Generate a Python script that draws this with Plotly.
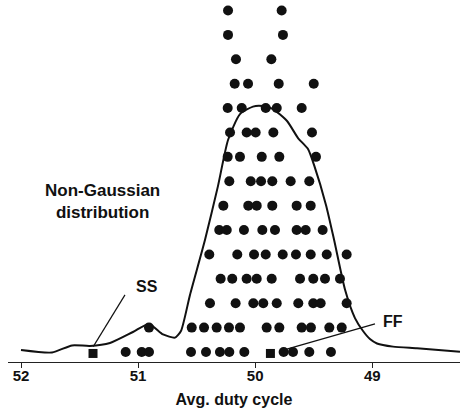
import plotly.graph_objects as go

# Dot positions (avg. duty cycle) for each stacked level, bottom level first
level_1 = [51.106, 50.969, 50.907, 50.548, 50.420, 50.301, 50.221, 50.093, 49.757, 49.677, 49.538, 49.353]
level_2 = [50.907, 50.542, 50.437, 50.329, 50.224, 50.130, 49.902, 49.794, 49.603, 49.524, 49.367, 49.261]
level_3 = [50.386, 50.167, 50.016, 49.931, 49.816, 49.632, 49.504, 49.441, 49.219]
level_4 = [50.295, 50.196, 50.073, 49.987, 49.859, 49.617, 49.504, 49.404, 49.276]
level_5 = [50.392, 50.153, 50.010, 49.910, 49.765, 49.652, 49.526, 49.389, 49.219]
level_6 = [50.307, 50.243, 50.096, 49.939, 49.831, 49.646, 49.569, 49.424]
level_7 = [50.272, 50.059, 49.987, 49.854, 49.646, 49.526]
level_8 = [50.221, 50.038, 49.950, 49.854, 49.697, 49.538]
level_9 = [50.235, 50.130, 49.944, 49.794, 49.481]
level_10 = [50.215, 50.073, 49.996, 49.845, 49.515]
level_11 = [50.235, 50.115, 49.910, 49.816, 49.603]
level_12 = [50.175, 50.061, 49.799, 49.500]
level_13 = [50.164, 49.862]
level_14 = [50.232, 49.763]
level_15 = [50.232, 49.774]
levels = [level_1, level_2, level_3, level_4, level_5, level_6, level_7, level_8,
          level_9, level_10, level_11, level_12, level_13, level_14, level_15]

# Density curve (same vertical units as the dot levels)
curve_x = [52.000, 51.735, 51.564, 51.411, 51.240, 51.044, 50.907, 50.787, 50.685, 50.634,
           50.557, 50.429, 50.318, 50.232, 50.130, 50.019, 49.933, 49.848, 49.728, 49.634,
           49.549, 49.497, 49.395, 49.326, 49.232, 49.148, 49.079, 49.020, 48.960, 48.823,
           48.618, 48.251]
curve_y = [1.08, 0.98, 1.27, 1.25, 1.37, 1.82, 2.15, 1.72, 1.59, 1.86,
           3.34, 5.59, 7.80, 9.69, 10.75, 11.06, 11.08, 10.96, 10.47, 9.77,
           9.32, 8.66, 7.02, 5.59, 3.54, 2.39, 1.86, 1.53, 1.35, 1.22,
           1.15, 1.01]

# Corner cases
corner_labels = ["SS", "FF"]
corner_x = [51.385, 49.870]
corner_y = [0.94, 0.94]

tick_vals = [52, 51, 50, 49]
tick_text = ["52", "51", "50", "49"]

dot_x, dot_y = [], []
for i, lv in enumerate(levels):
    dot_x += lv
    dot_y += [i + 1] * len(lv)

FONT = "Liberation Sans, Arial, sans-serif"
INK = "#111111"

fig = go.Figure()
fig.add_trace(go.Scatter(x=curve_x, y=curve_y, mode="lines",
                         line=dict(color=INK, width=2, shape="spline", smoothing=0.6),
                         hoverinfo="skip"))
fig.add_trace(go.Scatter(x=dot_x, y=dot_y, mode="markers",
                         marker=dict(color=INK, size=10, line=dict(width=0))))
fig.add_trace(go.Scatter(x=corner_x, y=corner_y, mode="markers",
                         marker=dict(color=INK, size=9, symbol="square", line=dict(width=0))))

# leader lines
fig.add_shape(type="line", x0=51.383, y0=1.22, x1=51.112, y1=3.34,
              line=dict(color=INK, width=1.2))
fig.add_shape(type="line", x0=49.760, y0=1.08, x1=48.977, y1=2.15,
              line=dict(color=INK, width=1.2))

bold = dict(family=FONT, size=16, color=INK, weight="bold")
fig.add_annotation(x=50.924, y=3.70, text=corner_labels[0], showarrow=False, font=bold)
fig.add_annotation(x=48.823, y=2.23, text=corner_labels[1], showarrow=False, font=bold)
fig.add_annotation(x=51.30, y=7.17, text="Non-Gaussian<br>distribution", showarrow=False,
                   font=dict(family=FONT, size=17, color=INK, weight="bold"),
                   align="center")

fig.update_layout(
    width=460, height=412,
    margin=dict(l=8, r=0, t=0, b=50, autoexpand=False),
    paper_bgcolor="white", plot_bgcolor="white",
    showlegend=False,
    xaxis=dict(range=[52.111, 48.251], showgrid=False, zeroline=False,
               showline=True, linecolor="#222222", linewidth=1,
               ticks="outside", ticklen=5, tickcolor="#222222",
               tickvals=tick_vals, ticktext=tick_text, automargin=False,
               ticklabelstandoff=-5,
               tickfont=dict(family=FONT, size=15, color=INK, weight="bold"),
               title=dict(text="Avg. duty cycle", standoff=10,
                          font=dict(family=FONT, size=16, color=INK, weight="bold"))),
    yaxis=dict(range=[0.59, 15.43], visible=False),
)

fig.write_html("out.html", config={"displayModeBar": False},
               post_script="document.body.style.margin='0';document.body.style.overflow='hidden';")
